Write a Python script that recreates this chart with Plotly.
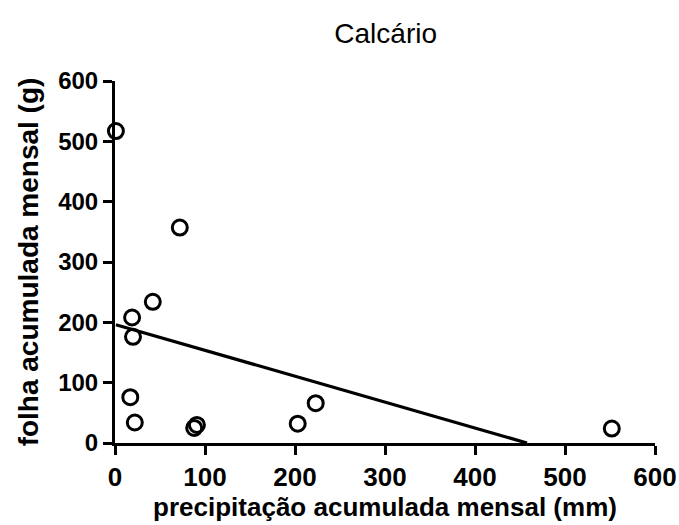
import numpy as np
import plotly.graph_objects as go

# Monthly accumulated precipitation (mm) and leaf litter (g), Calcário site
precipitacao = [1, 72, 42, 19, 20, 17, 22, 88, 91, 203, 223, 552]
folha = [517, 357, 234, 208, 176, 76, 34, 25, 30, 32, 66, 24]

x_ticks = [0, 100, 200, 300, 400, 500, 600]
y_ticks = [0, 100, 200, 300, 400, 500, 600]

# Least-squares regression line, drawn down to where it meets y = 0
slope, intercept = np.polyfit(precipitacao, folha, 1)
x_start = min(precipitacao)
x_end = min(max(precipitacao), -intercept / slope)
line_x = [x_start, x_end]
line_y = [intercept + slope * v for v in line_x]

font_family = "Liberation Sans, Arial, sans-serif"

fig = go.Figure()
fig.add_trace(go.Scatter(
    x=line_x, y=line_y, mode="lines",
    line=dict(color="black", width=3.2),
    showlegend=False, hoverinfo="skip",
))
fig.add_trace(go.Scatter(
    x=precipitacao, y=folha, mode="markers",
    marker=dict(symbol="circle-open", size=15, color="black",
                line=dict(width=3, color="black")),
    showlegend=False, cliponaxis=False,
))

axis_common = dict(
    showline=True, linecolor="black", linewidth=3,
    ticks="outside", ticklen=9, tickwidth=3, tickcolor="black",
    showgrid=False, zeroline=False, range=[0, 600],
    tickmode="array", automargin=False,
)

fig.update_layout(
    width=679, height=525,
    margin=dict(l=115, r=24, t=81, b=82, autoexpand=False),
    paper_bgcolor="white", plot_bgcolor="white",
    title=dict(text="Calcário", x=0.568, xanchor="center", y=0.937, yanchor="middle",
               font=dict(family=font_family, size=28, color="black")),
    xaxis=dict(**axis_common, tickvals=x_ticks, ticktext=[str(v) for v in x_ticks],
               tickfont=dict(family=font_family, size=26, color="black", weight="bold"),
               title=dict(text="<b>precipitação acumulada mensal (mm)</b>",
                          font=dict(family=font_family, size=26, color="black"),
                          standoff=6)),
    yaxis=dict(**axis_common, tickvals=y_ticks, ticktext=[str(v) for v in y_ticks],
               tickfont=dict(family=font_family, size=24, color="black", weight="bold"),
               title=dict(text="<b>folha acumulada mensal (g)</b>",
                          font=dict(family=font_family, size=28, color="black"),
                          standoff=12)),
)

fig.write_html("out.html")
